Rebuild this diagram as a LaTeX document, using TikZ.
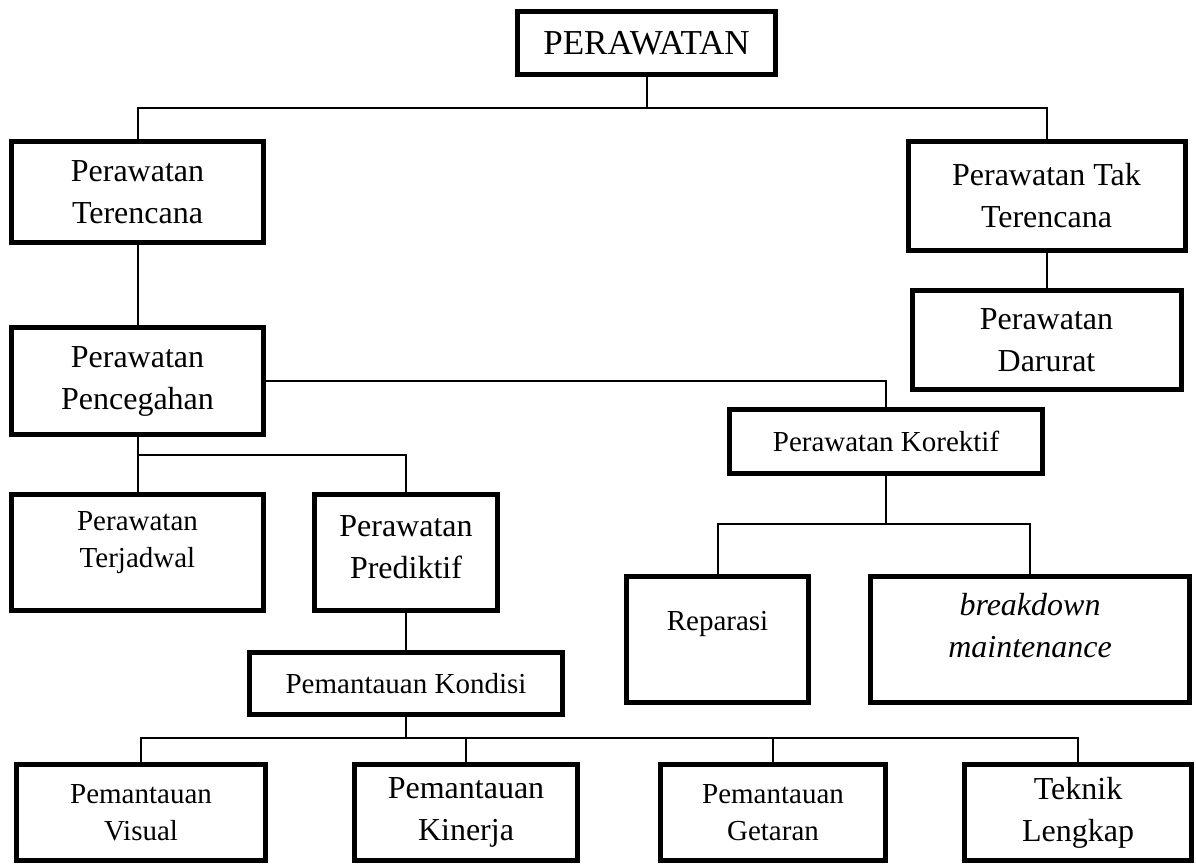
\documentclass[tikz,border=0pt]{standalone}
\usepackage{fontspec}
\setmainfont{Liberation Serif}
\newcommand{\bigtxt}{\fontsize{32}{42}\selectfont}
\newcommand{\smalltxt}{\fontsize{29}{37}\selectfont}
\newcommand{\headtxt}{\fontsize{35}{42}\selectfont}
\begin{document}
\begin{tikzpicture}[x=1pt, y=-1pt,
        box/.style={draw, line width=5pt, fill=white, align=center, inner sep=0pt, font=\bigtxt},
        small/.style={font=\smalltxt},
        link/.style={line width=2pt}]
        \useasboundingbox (0,0) rectangle (1196,867);

        \node[box, font=\headtxt, minimum width=258pt, minimum height=63pt] (top) at (646.5,43) {PERAWATAN};

        \node[box, minimum width=252pt, minimum height=101pt] (terencana) at (137.5,192) {Perawatan\\Terencana};
        \node[box, minimum width=277pt, minimum height=109pt] (takterencana) at (1046.5,196) {Perawatan Tak\\Terencana};
        \node[box, minimum width=269pt, minimum height=99pt] (darurat) at (1046.5,340) {Perawatan\\Darurat};

        \node[box, minimum width=252pt, minimum height=107pt] (pencegahan) at (137.5,381) {Perawatan\\Pencegahan};
        \node[box, small, minimum width=313pt, minimum height=64pt] (korektif) at (886,441.5) {Perawatan Korektif};

        \node[box, small, minimum width=252pt, minimum height=116pt, text depth=26pt] (terjadwal) at (137.5,552.5) {Perawatan\\Terjadwal};
        \node[box, minimum width=183pt, minimum height=116pt, text depth=10pt] (prediktif) at (406,552.5) {Perawatan\\Prediktif};
        \node[box, small, minimum width=182pt, minimum height=126pt, text depth=38pt] (reparasi) at (717.5,639.5) {Reparasi};
        \node[box, minimum width=319pt, minimum height=126pt, text depth=28pt] (breakdown) at (1030,639.5) {\itshape breakdown\\\itshape maintenance};

        \node[box, small, minimum width=313pt, minimum height=62pt] (kondisi) at (406,683.5) {Pemantauan Kondisi};

        \node[box, small, minimum width=249pt, minimum height=96pt] (visual) at (141,812.5) {Pemantauan\\Visual};
        \node[box, minimum width=223pt, minimum height=96pt] (kinerja) at (466,812.5) {Pemantauan\\Kinerja};
        \node[box, small, minimum width=225pt, minimum height=96pt] (getaran) at (773,812.5) {Pemantauan\\Getaran};
        \node[box, minimum width=227pt, minimum height=96pt] (teknik) at (1078,812.5) {Teknik\\Lengkap};

        % junctions
        \coordinate (topbus) at (646.5,108);
        \coordinate (cegahbus) at (137.5,455);
        \coordinate (korbus) at (886,524);
        \coordinate (konbus) at (406,738);

        \draw[link] (top) -- (topbus);
        \draw[link] (terencana.north) |- (topbus) -| (takterencana.north);
        \draw[link] (terencana) -- (pencegahan);
        \draw[link] (takterencana) -- (darurat);

        \draw[link] (pencegahan.east) -| (korektif.north);
        \draw[link] (pencegahan) -- (terjadwal);
        \draw[link] (cegahbus) -| (prediktif.north);
        \draw[link] (prediktif) -- (kondisi);

        \draw[link] (korektif) -- (korbus);
        \draw[link] (reparasi.north) |- (korbus) -| (breakdown.north);

        \draw[link] (kondisi) -- (konbus);
        \draw[link] (visual.north) |- (konbus) -| (teknik.north);
        \draw[link] (kinerja.north) -- (kinerja.north |- konbus);
        \draw[link] (getaran.north) -- (getaran.north |- konbus);
    \end{tikzpicture}
\end{document}
